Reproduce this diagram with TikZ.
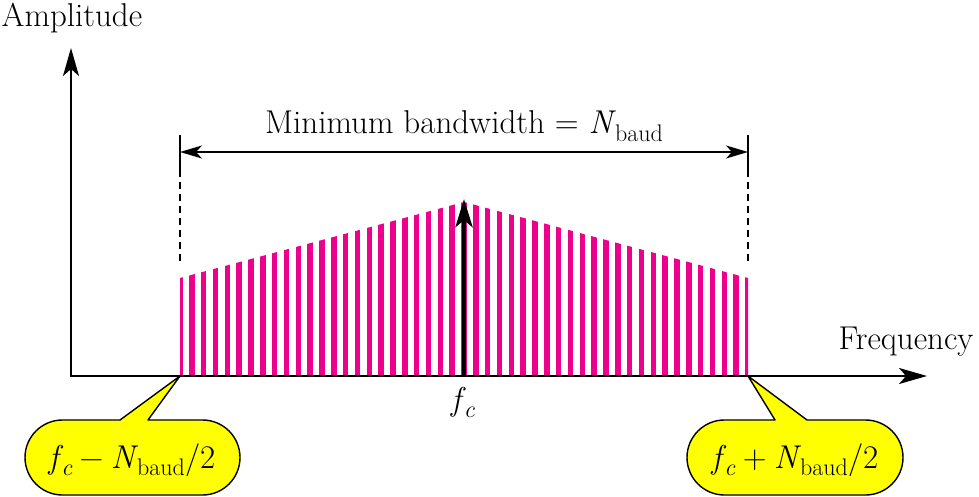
\documentclass[tikz,border=0pt]{standalone}
\usepackage{fontspec}
\usetikzlibrary{arrows.meta}
\definecolor{stripecol}{RGB}{236,0,140}
\definecolor{calloutcol}{RGB}{255,255,0}
\newcommand{\mysub}[1]{\raisebox{-0.22em}{\fontsize{24}{28}\selectfont #1}}
\newcommand{\fcsym}{\textit{f}\kern-2pt\mysub{\textit{c}}}
\newcommand{\Nbaud}{\textit{N}\kern-1pt\mysub{baud}}
\newcommand{\binop}[1]{\hspace{0.22em}#1\hspace{0.22em}}
\tikzset{
  bigtip/.tip={Stealth[length=28pt,width=16pt,inset=7pt]},
  dimtip/.tip={Stealth[length=22pt,width=13pt,inset=6pt]},
  fctiparrow/.tip={Stealth[length=28pt,width=17pt,inset=7pt]}
}
\begin{document}
\begin{tikzpicture}[x=1pt,y=1pt,
  font=\fontsize{33}{40}\selectfont,
  axisline/.style={line width=1.8pt},
  dimline/.style={line width=1.4pt},
  guide/.style={line width=1.6pt, dash pattern=on 7pt off 5pt},
  calloutbox/.style={fill=calloutcol, draw=black, line width=1.4pt, line join=round},
  lbl/.style={inner sep=0pt}]
\useasboundingbox (0,0) rectangle (979,496);

% key coordinates
\coordinate (O) at (71,120);
\coordinate (ytip) at (71,448);
\coordinate (xtip) at (927,120);
\coordinate (lo) at (180,120);
\coordinate (hi) at (748,120);
\coordinate (fcbase) at (464,120);
\coordinate (fctip) at (464,297);
\coordinate (dl) at (180,344);
\coordinate (dr) at (748,344);
\coordinate (dlt) at (180,361);
\coordinate (dlm) at (180,326);
\coordinate (dlb) at (180,234);
\coordinate (drt) at (748,361);
\coordinate (drm) at (748,326);
\coordinate (drb) at (748,234);

% striped spectrum
\begin{scope}
  \clip (180,120) -- (180,218) -- (464,294) -- (748,218) -- (748,120) -- cycle;
  \foreach \k in {0,...,48}
    \fill[stripecol] ({180+\k*11.833-2.7},120) rectangle ++(5.4,180);
\end{scope}

% callouts
\filldraw[calloutbox] (120,76) -- (lo) -- (148,76) -- (202.5,76)
  arc[start angle=90,end angle=-90,radius=37.5] -- (62.5,1)
  arc[start angle=270,end angle=90,radius=37.5] -- cycle;
\node[lbl, anchor=base] (lc) at (132,28) {\fcsym\binop{−}\Nbaud/2};

\filldraw[calloutbox] (775,76) -- (hi) -- (807,76) -- (865.5,76)
  arc[start angle=90,end angle=-90,radius=37.5] -- (724.5,1)
  arc[start angle=270,end angle=90,radius=37.5] -- cycle;
\node[lbl, anchor=base] (rc) at (795,28) {\fcsym\binop{+}\Nbaud/2};

% axes
\draw[axisline, bigtip-bigtip] (ytip) -- (O) -- (xtip);
\node[lbl] (amp) at (72,478) {Amplitude};
\node[lbl] (freq) at (906,154) {Frequency};

% carrier
\draw[line width=4.8pt, -fctiparrow] (fcbase) -- (fctip);
\node[lbl, anchor=base] (fc) at (463,86) {\fcsym};

% bandwidth dimension
\draw[dimline] (dlt) -- (dlm);
\draw[guide] (dlm) -- (dlb);
\draw[dimline] (drt) -- (drm);
\draw[guide] (drm) -- (drb);
\draw[dimline, dimtip-dimtip] (dl) -- (dr);
\node[lbl, anchor=base] (bw) at (464,362) {Minimum bandwidth = \Nbaud};
\end{tikzpicture}
\end{document}
